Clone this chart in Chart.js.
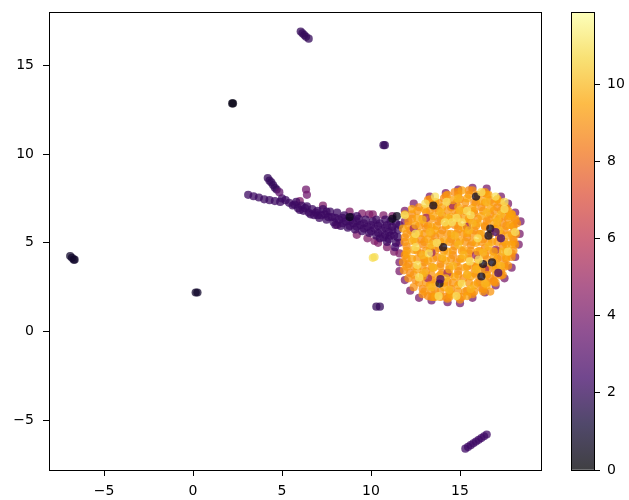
<!DOCTYPE html>
<html>
<head>
<meta charset="utf-8">
<script src="https://cdn.jsdelivr.net/npm/chart.js@4"></script>
<style>
body { margin: 0; background: #fff; }
canvas { position: absolute; left: 0; top: 0; }
</style>
</head>
<body>
<canvas id="scatter" width="629" height="500"></canvas>
<canvas id="colorbar" width="629" height="500"></canvas>
<script>
// tick labels
const xTicks = [-5, 0, 5, 10, 15];
const yTicks = [-5, 0, 5, 10, 15];
const barTicks = [0, 2, 4, 6, 8, 10];
const barMax = 11.87;

// inferno colormap, evenly spaced from 0 to 1
const inferno = ["#000004", "#160b39", "#420a68", "#6a176e", "#932667", "#bc3754", "#dd513a", "#f37819", "#fca50a", "#f6d746", "#fcffa4"];

// small separate clusters
const topCluster = [[6.05, 16.9], [6.15, 16.8], [6.25, 16.7], [6.35, 16.6], [6.5, 16.5]];
const bottomCluster = [[15.3, -6.6], [15.45, -6.5], [15.6, -6.4], [15.75, -6.3], [15.9, -6.2], [16.05, -6.1], [16.2, -6], [16.35, -5.9], [16.5, -5.8]];
const leftCluster = [[-6.9, 4.25], [-6.8, 4.15], [-6.7, 4.05], [-6.65, 4.05]];
const dotA = [[2.2, 12.85], [2.25, 12.85]];
const dotB = [[0.15, 2.2], [0.25, 2.2]];
const dotC = [[10.7, 10.5], [10.78, 10.5]];
const dotD = [[10.3, 1.4], [10.5, 1.4]];
const branch = [[4.2, 8.65], [4.3, 8.5], [4.4, 8.4], [4.5, 8.25], [4.6, 8.1], [4.7, 8]];
const branchEnd = [[4.85, 7.85]];
const smallPair = [[6.35, 8.0], [6.4, 7.7]];
const yellowDot = [[10.1, 4.15], [10.2, 4.2]];

// the tail running into the blob
const tail = [[3.1, 7.7], [3.4, 7.62], [3.7, 7.55], [4, 7.45], [4.3, 7.4], [4.6, 7.35], [4.9, 7.3], [5, 7.5], [5.2, 7.4], [5.4, 7.25], [5.6, 7.1], [5.8, 7.3], [5.9, 6.95], [6.1, 7.1], [6.2, 6.8], [6.4, 7.05], [6.5, 6.7], [6.7, 6.9], [6.8, 6.55], [7, 6.8], [7.1, 6.4], [7.3, 6.9], [7.4, 6.6], [7.5, 6.3], [7.7, 6.75], [7.8, 6.45], [7.9, 6.15], [8.1, 6.7], [8.2, 6.3], [8.3, 5.95], [8.5, 6.55], [8.6, 6.2], [8.7, 5.85], [8.9, 6.45], [9, 6.1], [9.1, 5.75], [9.3, 6.35], [9.4, 6], [9.5, 5.65], [9.7, 6.3], [9.8, 5.9], [9.9, 5.55], [10.1, 6.2], [10.2, 5.8], [10.3, 5.4], [10.5, 6.1], [10.6, 5.7], [10.7, 5.3], [10.9, 6], [11, 5.6], [11, 5.2], [11.2, 5.9], [11.3, 5.4], [11.4, 6.1], [11.5, 5.7]];
const tailFill = [[5.7, 7.15], [6, 6.85], [6.3, 6.95], [6.6, 6.6], [6.9, 6.7], [7.2, 6.55], [7.5, 6.75], [7.6, 6.45], [8, 6.4], [8, 6], [8.4, 6.4], [8.4, 6.1], [8.8, 6.25], [8.8, 5.95], [9.2, 6.2], [9.2, 5.9], [9.6, 6.1], [9.6, 5.8], [10, 6], [10, 5.65], [10.4, 5.95], [10.4, 5.55], [10.8, 5.85], [10.8, 5.45], [11.1, 5.4], [11.2, 5.7], [11.5, 5.3], [11.6, 6], [11.4, 5], [10.9, 5.05], [10.5, 5.25], [9.2, 6.5], [10.3, 6.3], [10.8, 6.3], [7, 6.55], [11.1, 6.2]];
const tailRim = [[8.8, 6.75], [9.5, 6.65], [10.1, 6.6], [10.7, 6.55], [11.2, 6.5], [9.2, 5.45], [9.8, 5.25], [10.4, 5], [10.9, 4.75], [11.3, 4.5], [11.6, 5], [10.2, 5.1], [7.3, 7.1], [6, 7.35], [8.1, 6], [9.9, 6.6], [11.6, 4.4]];
const tailDark = [[8.8, 6.45], [11.45, 6.5], [11.2, 6.35]];

// purple points showing round the rim of the blob
const blobRim = [[11.9, 6.8], [12.4, 7.2], [11.9, 6.2], [11.6, 3.9], [11.6, 3.4], [11.9, 2.9], [12.2, 2.3], [12.7, 1.9], [13.4, 1.75], [14.3, 1.65], [15, 1.6], [15.7, 1.9], [16.4, 2.2], [17, 2.6], [17.5, 3], [17.9, 3.6], [18.1, 4.2], [18.3, 4.9], [18.35, 5.5], [18.4, 6.2], [18.1, 6.7], [17.7, 7.2], [17.3, 7.6], [16.5, 8.05], [15.7, 8.1], [14.9, 8], [14.2, 7.8], [13.3, 7.6]];
const blobFlecks = [[13.1, 6.4], [14.3, 3.3], [15.4, 5.9], [13.2, 3], [16.4, 3.5], [17, 4.6], [14.6, 7.1], [12.4, 5.8], [13.4, 4.45], [15.9, 4.3]];

// blob body
const blobEdge = [[11.8, 3.9], [11.85, 3.45], [12.1, 3], [12.4, 2.5], [12.9, 2.1], [13.5, 1.95], [14.3, 1.85], [15, 1.8], [15.7, 2.1], [16.3, 2.4], [16.9, 2.8], [17.3, 3.15], [17.7, 3.7], [17.9, 4.2], [18.1, 4.9], [18.15, 5.5], [18.2, 6.1], [17.9, 6.6], [17.5, 7.05], [17.1, 7.45], [16.4, 7.85], [15.7, 7.95], [14.9, 7.85], [14.2, 7.65], [13.3, 7.45]];
const blobDeep = [
  [14.7, 7.85], [15.5, 7.95], [16.3, 7.8],
  [13.2, 7.4], [14.1, 7.5], [15, 7.45], [15.8, 7.3], [16.7, 7.4],
  [12.7, 7], [13.6, 6.95], [14.5, 7], [15.3, 6.9], [16.2, 7], [17.1, 7], [17.6, 6.95],
  [12.3, 6.6], [13.1, 6.7], [14, 6.55], [14.9, 6.6], [15.8, 6.65], [16.7, 6.6], [17.5, 6.5],
  [12.1, 6.2], [13, 6.1], [13.8, 6.2], [14.7, 6], [15.6, 6.25], [16.5, 6.2], [17.4, 6.1], [18.1, 6.25],
  [12.2, 5.7], [13.1, 5.8], [14, 5.7], [14.9, 5.75], [15.8, 5.7], [16.4, 5.9], [17.5, 5.7], [18, 5.9],
  [11.9, 5.3], [12.8, 5.2], [13.6, 5.35], [14.5, 5.2], [15.4, 5.3], [16.3, 5.2], [17.2, 5.3], [18, 5.2],
  [12, 4.8], [12.9, 4.9], [13.8, 4.7], [14.7, 4.8], [15.6, 4.85], [16.4, 4.7], [17.4, 4.8],
  [11.9, 4.3], [12.8, 4.4], [13.7, 4.2], [14.6, 4.3], [15.5, 4.4], [16.4, 4.3], [17.3, 4.2], [17.9, 4.4],
  [12.1, 3.8], [13, 3.9], [13.9, 3.8], [14.8, 3.9], [15.7, 3.7], [16.6, 3.5], [17.5, 3.8],
  [12.2, 3.3], [13.1, 3.4], [14, 3.3], [14.9, 3.4], [15.8, 3.3], [16.7, 3], [17.3, 3.4],
  [12.5, 2.9], [13.4, 2.9], [14.3, 2.8], [15.2, 3], [16.1, 2.8], [16.9, 2.85],
  [12.9, 2.4], [13.6, 2.3], [14.5, 2.4], [15.4, 2.3], [16.2, 2.45],
  [13.2, 2], [14.2, 1.95], [15.1, 1.95], [15.6, 2.2]
];
const blobFill = [
  [14.3, 7.7], [14.9, 7.7], [15.5, 7.7], [16, 7.7], [16.5, 7.7],
  [13.3, 7.25], [13.8, 7.25], [14.3, 7.25], [14.8, 7.25], [15.3, 7.25], [15.9, 7.25], [16.4, 7.25], [16.9, 7.25], [17.3, 7.25],
  [12.6, 6.8], [13.3, 6.8], [13.8, 6.8], [14.3, 6.8], [14.7, 6.8], [15.2, 6.8], [15.8, 6.8], [16.3, 6.8], [16.9, 6.8], [17.3, 6.8], [17.7, 6.8],
  [12.3, 6.35], [12.9, 6.35], [13.4, 6.35], [13.9, 6.35], [14.4, 6.35], [14.9, 6.35], [15.5, 6.35], [16, 6.35], [16.6, 6.35], [17.2, 6.35], [17.7, 6.35], [18.1, 6.35],
  [12.1, 5.95], [12.7, 5.95], [13.2, 5.95], [13.7, 5.95], [14.2, 5.95], [14.9, 5.95], [15.4, 5.95], [15.9, 5.95], [16.4, 5.95], [17.1, 5.95], [17.6, 5.95], [18, 5.95],
  [12, 5.5], [12.4, 5.5], [13, 5.5], [13.4, 5.5], [13.9, 5.5], [14.3, 5.5], [14.8, 5.5], [15.2, 5.5], [15.7, 5.5], [16.1, 5.5], [16.7, 5.5], [17.3, 5.5], [17.9, 5.5],
  [11.9, 5.05], [12.5, 5.05], [13, 5.05], [13.5, 5.05], [13.9, 5.05], [14.4, 5.05], [14.8, 5.05], [15.3, 5.05], [15.7, 5.05], [16.2, 5.05], [16.6, 5.05], [17.1, 5.05], [17.5, 5.05], [18, 5.05],
  [12, 4.55], [12.6, 4.55], [13.1, 4.55], [13.6, 4.55], [14.1, 4.55], [14.6, 4.55], [15.1, 4.55], [15.6, 4.55], [16.1, 4.55], [16.6, 4.55], [17.1, 4.55], [17.6, 4.55], [18, 4.55],
  [12, 4.1], [12.6, 4.1], [13, 4.1], [13.5, 4.1], [14, 4.1], [14.5, 4.1], [15, 4.1], [15.5, 4.1], [16, 4.1], [16.5, 4.1], [17.1, 4.1], [17.6, 4.1],
  [12, 3.65], [12.4, 3.65], [12.9, 3.65], [13.4, 3.65], [13.9, 3.65], [14.4, 3.65], [14.9, 3.65], [15.4, 3.65], [15.9, 3.65], [16.5, 3.65], [17, 3.65], [17.5, 3.65],
  [12.4, 3.2], [12.9, 3.2], [13.4, 3.2], [13.9, 3.2], [14.4, 3.2], [14.9, 3.2], [15.4, 3.2], [15.9, 3.2], [16.5, 3.2], [17, 3.2], [17.4, 3.2],
  [12.7, 2.75], [13.1, 2.75], [13.6, 2.75], [14.1, 2.75], [14.6, 2.75], [15, 2.75], [15.5, 2.75], [16, 2.75], [16.5, 2.75], [17, 2.75],
  [13, 2.25], [13.4, 2.25], [13.9, 2.25], [14.4, 2.25], [14.9, 2.25], [15.3, 2.25], [15.8, 2.25], [16.3, 2.25], [16.7, 2.25],
  [13.4, 1.95], [13.9, 1.95], [14.4, 1.95], [14.9, 1.95]
];
const blobAmber = [
  [15.1, 7.95], [16.6, 7.7],
  [13.6, 7.3], [14.6, 7.4], [15.4, 7.5], [16.2, 7.35], [17.1, 7.45],
  [13, 6.9], [14, 7], [14.9, 7], [15.7, 6.95], [16.7, 6.95], [17.8, 6.5],
  [12.6, 6.4], [13.5, 6.5], [14.5, 6.45], [15.3, 6.4], [16.2, 6.5], [17, 6.4], [17.9, 6.6],
  [12.5, 6], [13.4, 5.9], [14.3, 6], [15.2, 5.85], [16, 6.1], [16.9, 6.1], [17.8, 6],
  [12.7, 5.55], [13.6, 5.7], [14.5, 5.5], [15.4, 5.55], [16.2, 5.5], [17, 5.8], [17.7, 5.4],
  [12.3, 5.1], [13.2, 5.2], [14.1, 5.1], [15, 5.1], [15.9, 5], [16.8, 5.05], [17.6, 4.9],
  [12.4, 4.6], [13.3, 4.7], [14.3, 4.5], [15.2, 4.6], [16, 4.5], [16.9, 4.5], [17.9, 4.9],
  [12.3, 4.1], [13.2, 4], [14.2, 4], [15.1, 4.1], [16, 3.7], [16.9, 4.2], [17.6, 4.2],
  [12.6, 3.5], [13.5, 3.6], [14.4, 3.5], [15.3, 3.6], [16.2, 3.5], [17.1, 3.8],
  [12.9, 3.1], [13.8, 3.1], [14.7, 3.1], [15.6, 3.1], [16.5, 2.6], [17, 3.5],
  [13.3, 2.6], [14.1, 2.5], [14.9, 2.6], [15.8, 2.6], [16.5, 3.2],
  [13.6, 1.95], [14.5, 2.1], [15.4, 2],
  [11.8, 5.8], [12, 4.4], [12.3, 6.9], [11.9, 6.6]
];
const blobLight = [[14.9, 7.5], [16.5, 7.3], [13.9, 6.7], [15, 6.8], [16.5, 6.7], [17.3, 6.6], [12.9, 6.3], [14.3, 6.4], [15.7, 6.1], [17.1, 6.2], [13.3, 5.6], [14.7, 5.4], [15.5, 5.7], [17.2, 5.7], [12.4, 5.2], [13.4, 4.9], [14.9, 4.9], [16.6, 4.8], [17.4, 4.5], [12.9, 4.3], [14, 4.2], [15.2, 4.3], [16.3, 4.45], [13.5, 3.6], [14.6, 3.7], [15.9, 3.5], [17.3, 3.7], [13, 3.3], [14.2, 3], [15.4, 3.2], [16.4, 2.7], [13.4, 2.5], [14.4, 2.35], [15.6, 2.4]];
const blobYellow = [[13.6, 7.6], [13.05, 7.2], [14.25, 7.3], [16.2, 7.85], [17, 7.6], [17.5, 7.3], [15.6, 6.55], [15.1, 6.15], [14.15, 6.15], [14.55, 6.15], [18.1, 5.6], [12.5, 4.75], [12.5, 5.5], [17.7, 4.5], [15.55, 3.95], [16.05, 4.05], [12.7, 3.05], [15.1, 2.7], [14.8, 2], [13.8, 2], [12.6, 3.75], [13.25, 4.4], [16, 5.25], [13.7, 5], [11.9, 6.55], [15.4, 6.8], [14.8, 6.4], [17.5, 6.9]];
const blobDark = [[13.5, 7.1], [15.9, 7.6], [16.7, 5.8], [16.6, 5.4], [14.05, 4.75], [16.8, 3.9], [16.3, 3.8], [16.2, 3.1], [13.85, 2.7]];
const blobDarkPurple = [[17, 5.6], [17.3, 5.25], [17.15, 3.3], [11.35, 4.75], [13.9, 2.95]];

// each cluster with the value that sets its colour, bottom layer first
const clusters = [
  [tailRim, 4.2], [tail, 2.2], [tailFill, 2.2], [tailDark, 0.5], [branch, 2], [branchEnd, 3.2], [smallPair, 3.8],
  [topCluster, 2], [bottomCluster, 2.3], [leftCluster, 0.9], [dotA, 0.4], [dotB, 0.9], [dotC, 2], [dotD, 2],
  [blobRim, 4], [blobEdge, 9], [blobDeep, 8.8], [blobFill, 9.1], [blobFlecks, 5], [blobAmber, 9.4], [blobLight, 9.9], [blobDark, 0.6], [blobDarkPurple, 2.4], [blobYellow, 11], [yellowDot, 10.9]
];

const ALPHA = 0.75;
const FONT = { family: "'DejaVu Sans'", size: 14 };

function hexRgb(h) {
  return [1, 3, 5].map(i => parseInt(h.substr(i, 2), 16));
}

// matplotlib style lookup: value -> colour
function cmap(v) {
  const t = Math.min(Math.max(v / barMax, 0), 1) * (inferno.length - 1);
  const i = Math.min(Math.floor(t), inferno.length - 2);
  const a = hexRgb(inferno[i]), b = hexRgb(inferno[i + 1]);
  const c = a.map((n, k) => Math.round(n + (b[k] - n) * (t - i)));
  return `rgba(${c[0]},${c[1]},${c[2]},${ALPHA})`;
}

function minusLabel(v) {
  return String(v).replace("-", "\u2212");
}

const framePlugin = {
  id: "frame",
  afterDraw(chart) {
    const a = chart.chartArea, ctx = chart.ctx;
    ctx.save();
    ctx.strokeStyle = "#000";
    ctx.lineWidth = 1;
    ctx.strokeRect(a.left + 0.5, a.top + 0.5, a.right - a.left, a.bottom - a.top);
    ctx.restore();
  }
};

function tickStyle(pad) {
  return { color: "#000", font: FONT, padding: pad, maxRotation: 0, autoSkip: false, callback: minusLabel };
}
const gridStyle = { display: true, drawOnChartArea: false, color: "#000", tickLength: 6, tickWidth: 1 };

// fixed axis box sizes, so tick label overflow does not push the plot area
function fixHeight(h) {
  return s => { s.height = h; s.paddingLeft = 0; s.paddingRight = 0; };
}
function fixWidth(w) {
  return s => { s.width = w; s.paddingTop = 0; s.paddingBottom = 0; };
}

new Chart("scatter", {
  type: "scatter",
  data: {
    // Chart.js paints the first dataset last, so flip the layers
    datasets: clusters.slice().reverse().map(c => ({
      data: c[0].map(p => ({ x: p[0], y: p[1] })),
      backgroundColor: cmap(c[1]),
      borderWidth: 0,
      pointRadius: 4.1
    }))
  },
  options: {
    responsive: false,
    animation: false,
    events: [],
    layout: { padding: { left: 0, right: 88, top: 12, bottom: 0 } },
    plugins: { legend: { display: false }, tooltip: { enabled: false } },
    scales: {
      x: {
        type: "linear", min: -8.09, max: 19.55,
        afterBuildTicks: s => { s.ticks = xTicks.map(v => ({ value: v })); },
        afterFit: fixHeight(30),
        ticks: tickStyle(7), grid: gridStyle, border: { color: "#000" }
      },
      y: {
        type: "linear", min: -7.8, max: 18,
        afterBuildTicks: s => { s.ticks = yTicks.map(v => ({ value: v })); },
        afterFit: fixWidth(49),
        ticks: tickStyle(9), grid: gridStyle, border: { color: "#000" }
      }
    }
  },
  plugins: [framePlugin]
});

new Chart("colorbar", {
  type: "bar",
  data: {
    labels: [""],
    datasets: [{
      data: [[0, barMax]],
      barPercentage: 1,
      categoryPercentage: 1,
      borderWidth: 0,
      backgroundColor: ctx => {
        const area = ctx.chart.chartArea;
        if (!area) return "transparent";
        const g = ctx.chart.ctx.createLinearGradient(0, area.bottom, 0, area.top);
        inferno.forEach((h, i) => g.addColorStop(i / (inferno.length - 1), cmap(barMax * i / (inferno.length - 1))));
        return g;
      }
    }]
  },
  options: {
    responsive: false,
    animation: false,
    events: [],
    layout: { padding: { left: 571, right: 0, top: 12, bottom: 30 } },
    plugins: { legend: { display: false }, tooltip: { enabled: false } },
    scales: {
      x: { display: false },
      y: {
        position: "right", min: 0, max: barMax,
        afterBuildTicks: s => { s.ticks = barTicks.map(v => ({ value: v })); },
        afterFit: fixWidth(35),
        ticks: tickStyle(7), grid: gridStyle, border: { color: "#000" }
      }
    }
  },
  plugins: [framePlugin]
});
</script>
</body>
</html>
